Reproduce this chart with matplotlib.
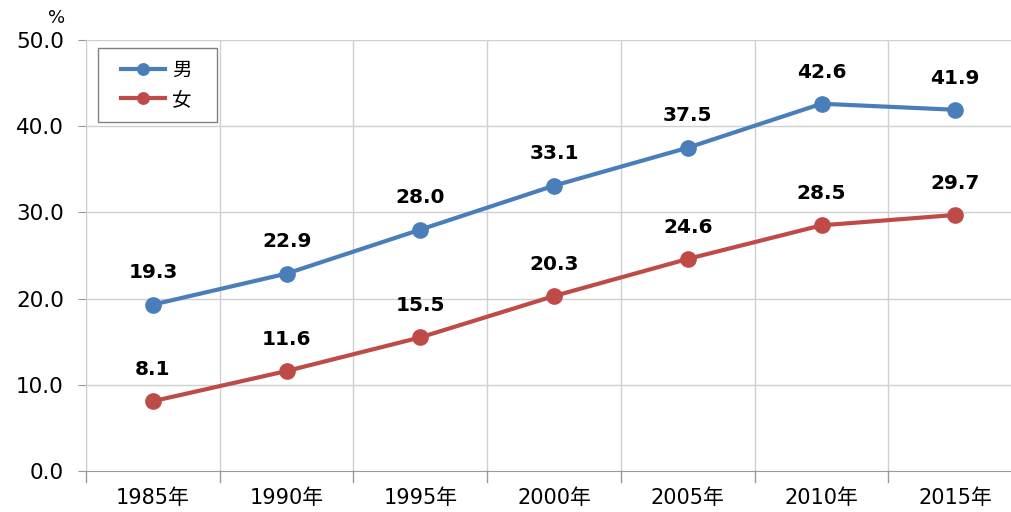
import matplotlib
matplotlib.use("Agg")
import matplotlib.pyplot as plt
from matplotlib.patches import Rectangle

plt.rcParams['font.family'] = ['DejaVu Sans', 'Noto Sans CJK JP']

years = ["1985年", "1990年", "1995年", "2000年", "2005年", "2010年", "2015年"]
male = [19.3, 22.9, 28.0, 33.1, 37.5, 42.6, 41.9]
female = [8.1, 11.6, 15.5, 20.3, 24.6, 28.5, 29.7]
yticks = [0, 10, 20, 30, 40, 50]

fig = plt.figure(figsize=(10.12, 5.12), dpi=100)
ax = fig.add_axes([0.085, 0.080, 0.925, 0.842])

blue = "#4a7ebb"
red = "#be4b48"
x = list(range(len(years)))
ax.plot(x, male, color=blue, lw=3, marker='o', ms=11, label="男", zorder=3)
ax.plot(x, female, color=red, lw=3, marker='o', ms=11, label="女", zorder=3)

for xi, v in zip(x, male):
    ax.annotate(f"{v:.1f}", (xi, v), xytext=(0, 16), textcoords='offset points',
                ha='center', va='bottom', fontsize=14.5, fontweight='bold')
for xi, v in zip(x, female):
    ax.annotate(f"{v:.1f}", (xi, v), xytext=(0, 16), textcoords='offset points',
                ha='center', va='bottom', fontsize=14.5, fontweight='bold')

ax.set_xlim(-0.5, len(years) - 0.5)
ax.set_ylim(0, 50)
ax.set_yticks(yticks)
ax.set_yticklabels([f"{v:.1f}" for v in yticks], fontsize=15.5)
ax.set_xticks(x)
ax.set_xticklabels(years, fontsize=15)
ax.tick_params(axis='x', length=0, pad=12)
ax.tick_params(axis='y', length=6, color='#999999', pad=10)

# category boundary ticks & gridlines
for b in [i - 0.5 for i in range(len(years) + 1)]:
    ax.axvline(b, color='#d0d0d0', lw=1, zorder=0)
    ax.plot([b, b], [0, -0.025], transform=ax.get_xaxis_transform(),
            color='#999999', lw=1, clip_on=False)
for t in yticks[1:]:
    ax.axhline(t, color='#d0d0d0', lw=1, zorder=0)

for s in ['top', 'right']:
    ax.spines[s].set_visible(False)
ax.spines['left'].set_color('#d0d0d0')
ax.spines['bottom'].set_color('#999999')

fig.text(57 / 1012, 1 - 18 / 512, "%", fontsize=13, ha='center', va='center')

# legend frame
ax.add_patch(Rectangle((0.0128, 0.810), 0.127, 0.171, transform=ax.transAxes,
                       facecolor='white', edgecolor='#808080', lw=1, zorder=4))
leg = ax.legend(loc='center left', bbox_to_anchor=(0.0374, 0.8956),
                borderaxespad=0, borderpad=0, fontsize=14, frameon=False,
                handlelength=2.27, labelspacing=0.55,
                markerscale=0.75, handletextpad=0.35)
leg.set_zorder(5)

fig.savefig("out.png", dpi=100)
